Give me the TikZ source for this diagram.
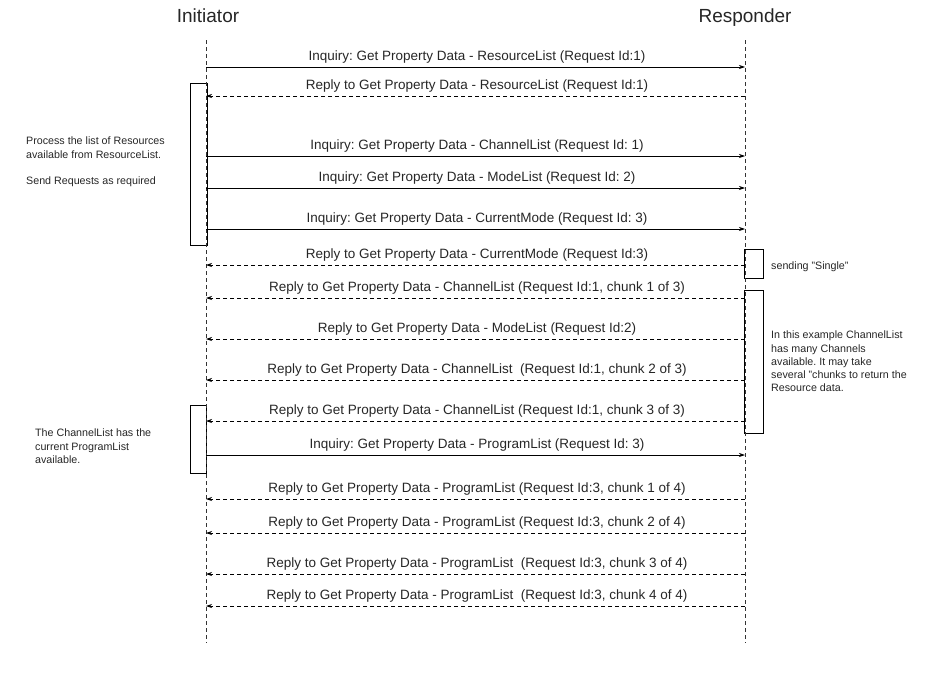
\documentclass[tikz,border=0pt]{standalone}
\usepackage{fontspec}
\setmainfont{Liberation Sans}
\usetikzlibrary{arrows.meta}
\frenchspacing
\begin{document}
\begin{tikzpicture}[x=1pt,y=-1pt,
  lifeline/.style={draw=black!80, line width=0.6pt, dash pattern=on 4pt off 3pt},
  req/.style={draw, line width=0.7pt, -{Stealth[length=6pt,width=4pt]}},
  rep/.style={draw, line width=0.7pt, dash pattern=on 4pt off 3pt, -{Stealth[length=6pt,width=4pt]}},
  lbl/.style={font=\fontsize{13.5}{15}\selectfont, text=black!85, inner sep=1pt, anchor=base, yshift=6.5pt, xshift=1.5pt},
  title/.style={font=\fontsize{19}{22}\selectfont, text=black!85, anchor=base},
  act/.style={draw, line width=0.6pt, fill=white, inner sep=0pt},
  note/.style={font=\fontsize{10.7}{13.2}\selectfont, text=black!85, align=left, anchor=north west, inner sep=0pt}
]
\useasboundingbox (0,0) rectangle (949,672);
% titles
\node[title] (ti) at (208,22) {Initiator};
\node[title] (tr) at (745,22) {Responder};
% lifelines
\coordinate (Ltop) at (206,40);
\coordinate (Lbot) at (206,643);
\coordinate (Rtop) at (745,40);
\coordinate (Rbot) at (745,643);
% activation boxes
\node[act, minimum width=17pt, minimum height=162pt] (a1) at (198.5,164) {};
\node[act, minimum width=16pt, minimum height=68pt] (a2) at (198,439) {};
\node[act, minimum width=19pt, minimum height=29pt] (a3) at (753.5,263.5) {};
\node[act, minimum width=19pt, minimum height=143pt] (a4) at (753.5,361.5) {};
\draw[lifeline] (Ltop) -- (Lbot);
\draw[lifeline] (Rtop) -- (Rbot);
% message coordinates
\foreach \i/\y in {1/67,2/96,3/156,4/188,5/229,6/265,7/298,8/339,9/380,10/421,11/455,12/499,13/533,14/574,15/606}{
  \coordinate (L\i) at (206,\y);
  \coordinate (R\i) at (745,\y);
}
\draw[req] (L1) -- node[lbl] (m1) {Inquiry: Get Property Data - ResourceList (Request Id:1)} (R1);
\draw[rep] (R2) -- node[lbl] (m2) {Reply to Get Property Data - ResourceList (Request Id:1)} (L2);
\draw[req] (L3) -- node[lbl] (m3) {Inquiry: Get Property Data - ChannelList (Request Id: 1)} (R3);
\draw[req] (L4) -- node[lbl] (m4) {Inquiry: Get Property Data - ModeList (Request Id: 2)} (R4);
\draw[req] (L5) -- node[lbl] (m5) {Inquiry: Get Property Data - CurrentMode (Request Id: 3)} (R5);
\draw[rep] (R6) -- node[lbl] (m6) {Reply to Get Property Data - CurrentMode (Request Id:3)} (L6);
\draw[rep] (R7) -- node[lbl] (m7) {Reply to Get Property Data - ChannelList (Request Id:1, chunk 1 of 3)} (L7);
\draw[rep] (R8) -- node[lbl] (m8) {Reply to Get Property Data - ModeList (Request Id:2)} (L8);
\draw[rep] (R9) -- node[lbl] (m9) {Reply to Get Property Data - ChannelList\ \ (Request Id:1, chunk 2 of 3)} (L9);
\draw[rep] (R10) -- node[lbl] (m10) {Reply to Get Property Data - ChannelList (Request Id:1, chunk 3 of 3)} (L10);
\draw[req] (L11) -- node[lbl] (m11) {Inquiry: Get Property Data - ProgramList (Request Id: 3)} (R11);
\draw[rep] (R12) -- node[lbl] (m12) {Reply to Get Property Data - ProgramList (Request Id:3, chunk 1 of 4)} (L12);
\draw[rep] (R13) -- node[lbl] (m13) {Reply to Get Property Data - ProgramList (Request Id:3, chunk 2 of 4)} (L13);
\draw[rep] (R14) -- node[lbl] (m14) {Reply to Get Property Data - ProgramList\ \ (Request Id:3, chunk 3 of 4)} (L14);
\draw[rep] (R15) -- node[lbl] (m15) {Reply to Get Property Data - ProgramList\ \ (Request Id:3, chunk 4 of 4)} (L15);
% notes
\node[note] (n1) at (26,137) {Process the list of Resources\\available from ResourceList.\\[13.2pt]Send Requests as required};
\node[note] (n2) at (35,429) {The ChannelList has the\\current ProgramList\\available.};
\node[note] (n3) at (771,262) {sending "Single"};
\node[note] (n4) at (771,331) {In this example ChannelList\\has many Channels\\available. It may take\\several "chunks to return the\\Resource data.};
\end{tikzpicture}
\end{document}
